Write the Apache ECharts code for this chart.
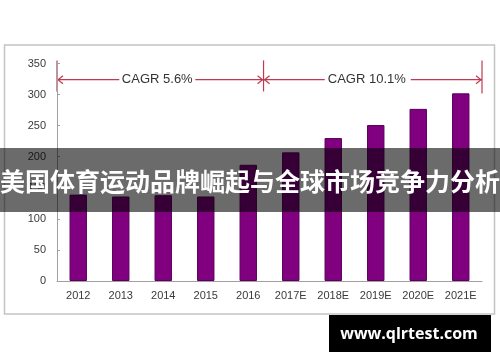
<!DOCTYPE html>
<html><head><meta charset="utf-8">
<script src="https://cdn.jsdelivr.net/npm/echarts@6/dist/echarts.min.js"></script>
<style>html,body{margin:0;padding:0;background:#fff;}#c{width:500px;height:362px;}</style>
</head><body><div id="c"></div>
<script>
var categories = ['2012','2013','2014','2015','2016','2017E','2018E','2019E','2020E','2021E'];
var values = [139, 136, 138, 136, 187, 207, 230, 251, 277, 302];
var yTicks = [0, 50, 100, 150, 200, 250, 300, 350];
var cagrLabels = ['CAGR 5.6%', 'CAGR 10.1%'];
var titleText = '美国体育运动品牌崛起与全球市场竞争力分析';
var watermark = 'www.qlrtest.com';

var chart = echarts.init(document.getElementById('c'), null, {renderer: 'canvas'});
var font = 'Liberation Sans, Arial, sans-serif';
chart.setOption({
  animation: false,
  backgroundColor: '#fff',
  grid: {left: 57, right: 18, top: 63.5, bottom: 81, containLabel: false},
  xAxis: {
    type: 'category', data: categories,
    axisLine: {lineStyle: {color: '#a0a0a0', width: 1}},
    axisTick: {inside: true, length: 4, lineStyle: {color: '#a0a0a0'}},
    axisLabel: {color: '#3a3a3a', fontSize: 11, fontFamily: font, margin: 9}
  },
  yAxis: {
    type: 'value', min: yTicks[0], max: yTicks[yTicks.length - 1], interval: 50,
    axisLine: {show: true, lineStyle: {color: '#a0a0a0', width: 1}},
    axisTick: {show: true, inside: true, length: 3, lineStyle: {color: '#a0a0a0'}},
    splitLine: {show: false},
    axisLabel: {color: '#3a3a3a', fontSize: 11, fontFamily: font, margin: 11}
  },
  series: [{
    type: 'bar', data: values, barWidth: '41%',
    itemStyle: {color: '#800080', borderColor: '#5a005a', borderWidth: 1}
  }]
});

var p0 = chart.convertToPixel({gridIndex: 0}, [0, 0]);
var p1 = chart.convertToPixel({gridIndex: 0}, [1, 0]);
var band = p1[0] - p0[0];
function xAt(idx) { return p0[0] + idx * band; }
function yAt(val) { return chart.convertToPixel({gridIndex: 0}, [0, val])[1]; }
var red = '#c0394f';
var x0 = xAt(-0.5);
var xMid = xAt(4.36);
var xEnd = xAt(9.5);
var yArrow = yAt(324);
var yTop = yAt(355);
var yBot = yAt(305);
var cagrFont = '13px ' + font;

function arrowLine(xa, xb, gap1, gap2) {
  return [
    {type: 'line', shape: {x1: xa, y1: yArrow, x2: gap1, y2: yArrow}, style: {stroke: red, lineWidth: 1.2}},
    {type: 'line', shape: {x1: gap2, y1: yArrow, x2: xb, y2: yArrow}, style: {stroke: red, lineWidth: 1.2}},
    {type: 'polyline', shape: {points: [[xa + 6, yArrow - 4], [xa + 1, yArrow], [xa + 6, yArrow + 4]]}, style: {stroke: red, lineWidth: 1.2, fill: null}},
    {type: 'polyline', shape: {points: [[xb - 6, yArrow - 4], [xb - 1, yArrow], [xb - 6, yArrow + 4]]}, style: {stroke: red, lineWidth: 1.2, fill: null}}
  ];
}
var c1 = (x0 + xMid) / 2 - 3, c2 = (xMid + xEnd) / 2 - 6;
var g = [
  {type: 'rect', shape: {x: 4.5, y: 45, width: 490, height: 269}, style: {fill: null, stroke: '#c4c4c4', lineWidth: 1.5}, z: 1},
  {type: 'line', shape: {x1: x0, y1: yTop, x2: x0, y2: yBot}, style: {stroke: red, lineWidth: 1.2}},
  {type: 'line', shape: {x1: xMid, y1: yTop, x2: xMid, y2: yBot}, style: {stroke: red, lineWidth: 1.2}},
  {type: 'line', shape: {x1: xEnd, y1: yTop, x2: xEnd, y2: yBot + 2}, style: {stroke: red, lineWidth: 1.2}},
  {type: 'text', x: c1, y: yArrow, style: {text: cagrLabels[0], font: cagrFont, fill: '#333', textAlign: 'center', textVerticalAlign: 'middle'}},
  {type: 'text', x: c2, y: yArrow, style: {text: cagrLabels[1], font: cagrFont, fill: '#333', textAlign: 'center', textVerticalAlign: 'middle'}}
];
g = g.concat(arrowLine(x0, xMid, c1 - 38, c1 + 38)).concat(arrowLine(xMid, xEnd, c2 - 42, c2 + 44));
g.push({type: 'rect', shape: {x: 0, y: 148, width: 500, height: 64}, style: {fill: 'rgba(0,0,0,0.58)'}, z: 100});
g.push({type: 'text', x: 250, y: 181, z: 101, style: {text: titleText, font: 'bold 25px "Noto Sans CJK SC", sans-serif', fill: '#fff', textAlign: 'center', textVerticalAlign: 'middle'}});
g.push({type: 'rect', shape: {x: 329, y: 315, width: 162, height: 37}, style: {fill: '#000'}, z: 100});
g.push({type: 'text', x: 409, y: 334, z: 101, style: {text: watermark, font: 'bold 16px "Open Sans", "DejaVu Sans", sans-serif', fill: '#fff', textAlign: 'center', textVerticalAlign: 'middle'}});
chart.setOption({graphic: g});
</script></body></html>
